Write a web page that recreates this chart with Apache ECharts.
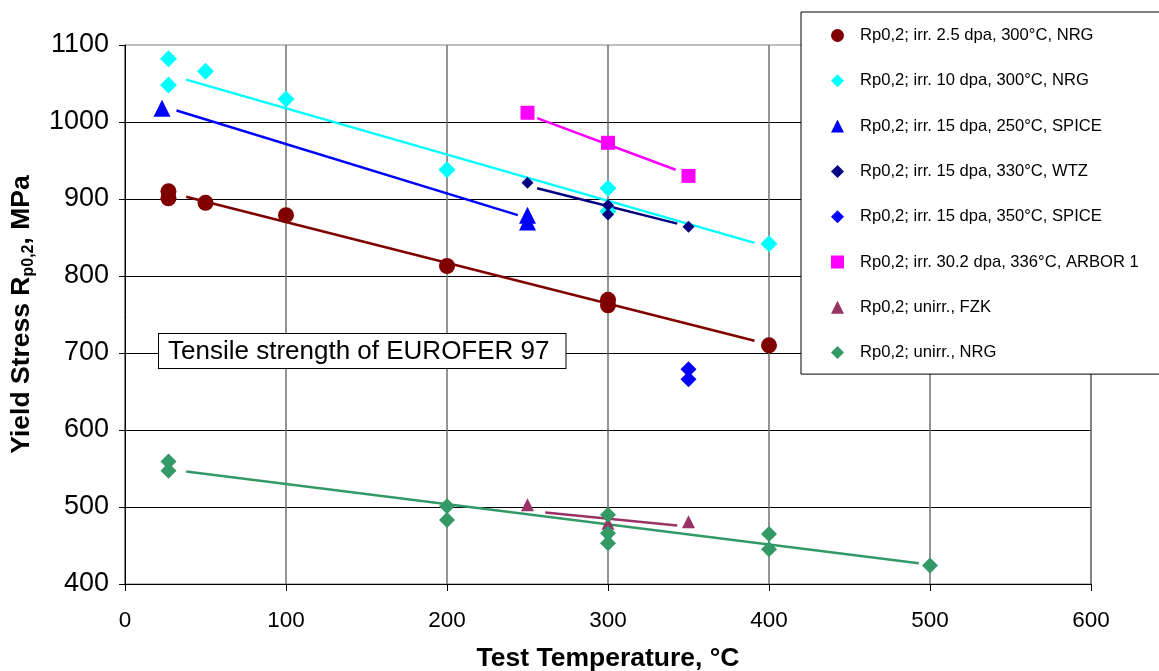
<!DOCTYPE html>
<html>
<head>
<meta charset="utf-8">
<script src="https://cdn.jsdelivr.net/npm/echarts@6/dist/echarts.min.js"></script>
<style>
html,body{margin:0;padding:0;background:#fff;}
#chart{width:1159px;height:671px;}
</style>
</head>
<body>
<div id="chart"></div>
<script>
// ---- Data ----
const xTicks = [0, 100, 200, 300, 400, 500, 600];
const yTicks = [400, 500, 600, 700, 800, 900, 1000, 1100];

const seriesNames = [
  'Rp0,2; irr. 2.5 dpa, 300°C, NRG',
  'Rp0,2; irr. 10 dpa, 300°C, NRG',
  'Rp0,2; irr. 15 dpa, 250°C, SPICE',
  'Rp0,2; irr. 15 dpa, 330°C, WTZ',
  'Rp0,2; irr. 15 dpa, 350°C, SPICE',
  'Rp0,2; irr. 30.2 dpa, 336°C, ARBOR 1',
  'Rp0,2; unirr., FZK',
  'Rp0,2; unirr., NRG'
];

const irr25NRG   = [[27,910],[27,901],[50,895],[100,879],[200,813],[300,769],[300,762],[400,710]];
const irr10NRG   = [[27,1082],[27,1048],[50,1066],[100,1030],[200,938],[300,914],[300,884],[400,842]];
const irr15SPICE250 = [[23,1018],[250,879],[250,870]];
const irr15WTZ   = [[250,921],[300,892],[300,880],[350,864]];
const irr15SPICE350 = [[350,679],[350,666]];
const irr30ARBOR = [[250,1012],[300,973],[350,930]];
const unirrFZK   = [[250,503],[300,479],[350,481]];
const unirrNRG   = [[27,559],[27,547],[200,501],[200,483],[300,490],[300,466],[300,453],[400,465],[400,445],[500,424]];

// linear trend lines (start / end points as drawn)
const trend25NRG   = [[38,903],[391,716]];
const trend10NRG   = [[38,1055],[391,843]];
const trend15SPICE = [[32,1015],[244,879]];
const trend15WTZ   = [[256,914],[343,868]];
const trend30ARBOR = [[256,1005],[342,938]];
const trendFZK     = [[261,493],[343,476]];
const trendUnNRG   = [[38,546],[493,427]];

// ---- Styling ----
const FONT = '"Liberation Sans", Arial, sans-serif';
const colors = ['#800000','#00FFFF','#0000FF','#000080','#0000FF','#FF00FF','#993366','#339966'];
const symbols = ['circle','diamond','triangle','diamond','diamond','rect','triangle','diamond'];
const sizes = [16, 17, 17, 12, 16, 14, 13, 16];
const pointSets = [irr25NRG, irr10NRG, irr15SPICE250, irr15WTZ, irr15SPICE350, irr30ARBOR, unirrFZK, unirrNRG];
const trends = [
  [trend25NRG, 0], [trend10NRG, 1], [trend15SPICE, 2], [trend15WTZ, 3],
  [trend30ARBOR, 5], [trendFZK, 6], [trendUnNRG, 7]
];

const series = [];
trends.forEach(([d, ci], i) => {
  series.push({
    name: 'trend' + i,
    type: 'line',
    data: d,
    symbol: 'none',
    silent: true,
    z: 3,
    lineStyle: { color: colors[ci], width: 2.5 },
    itemStyle: { color: colors[ci] }
  });
});
pointSets.forEach((d, i) => {
  series.push({
    name: seriesNames[i],
    type: 'scatter',
    data: d,
    symbol: symbols[i],
    symbolSize: sizes[i],
    z: 4,
    itemStyle: { color: colors[i], opacity: 1 }
  });
});

const chart = echarts.init(document.getElementById('chart'), null, { renderer: 'canvas' });
chart.setOption({
  animation: false,
  backgroundColor: '#fff',
  textStyle: { fontFamily: FONT },
  grid: {
    left: 125, top: 45, right: 68, bottom: 87,
    containLabel: false,
    outerBoundsMode: 'none',
    show: true, borderColor: '#808080', borderWidth: 1, backgroundColor: 'transparent'
  },
  xAxis: {
    type: 'value',
    min: xTicks[0], max: xTicks[xTicks.length - 1], interval: 100,
    name: 'Test Temperature, °C',
    nameLocation: 'middle',
    nameGap: 61,
    nameTextStyle: { fontFamily: FONT, fontSize: 26.5, fontWeight: 'bold', color: '#000' },
    axisLine: { show: true, lineStyle: { color: '#000', width: 1 } },
    axisTick: { show: true, inside: false, length: 7, lineStyle: { color: '#000' } },
    axisLabel: { fontFamily: FONT, fontSize: 22.5, color: '#000', margin: 25, formatter: v => String(v) },
    splitLine: { show: true, lineStyle: { color: '#707070', width: 1.5 } }
  },
  yAxis: {
    type: 'value',
    min: yTicks[0], max: yTicks[yTicks.length - 1], interval: 100,
    name: '{a|Yield Stress R}{s|p0,2}{a|, MPa}',
    nameLocation: 'middle',
    nameGap: 88,
    nameRotate: 90,
    nameTextStyle: {
      color: '#000',
      rich: {
        a: { fontFamily: FONT, fontSize: 26.5, fontWeight: 'bold', color: '#000', lineHeight: 30, verticalAlign: 'middle' },
        s: { fontFamily: FONT, fontSize: 16, fontWeight: 'bold', color: '#000', verticalAlign: 'bottom', lineHeight: 16 }
      }
    },
    axisLine: { show: true, lineStyle: { color: '#000', width: 1 } },
    axisTick: { show: true, inside: false, length: 6, lineStyle: { color: '#000' } },
    axisLabel: { fontFamily: FONT, fontSize: 27, color: '#000', margin: 16, formatter: v => String(v) },
    splitLine: { show: true, showMaxLine: false, lineStyle: { color: '#000', width: 1 } }
  },
  legend: {
    show: true,
    orient: 'vertical',
    left: 801,
    top: 12,
    padding: [15, 120, 13, 30],
    itemGap: 28.3,
    itemWidth: 13,
    itemHeight: 13,
    selectedMode: false,
    backgroundColor: '#fff',
    borderColor: '#000',
    borderWidth: 1,
    data: seriesNames,
    textStyle: { fontFamily: FONT, fontSize: 16.6, color: '#000', padding: [0, 0, 0, 11] }
  },
  graphic: [{
    type: 'text',
    left: 158,
    top: 333,
    z: 10,
    style: {
      text: 'Tensile strength of EUROFER 97',
      font: '26px "Liberation Sans", Arial, sans-serif',
      fill: '#000',
      backgroundColor: '#fff',
      borderColor: '#000',
      borderWidth: 1,
      padding: [5, 16, 3, 9]
    }
  }],
  series: series
});
</script>
</body>
</html>
